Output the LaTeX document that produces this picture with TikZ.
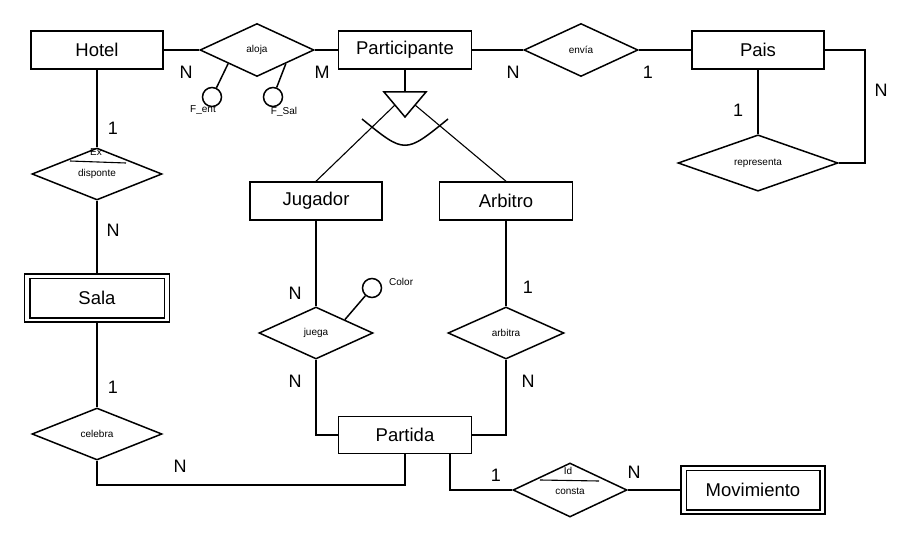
\documentclass[tikz,border=0pt]{standalone}
\usepackage{fontspec}
\setmainfont{Liberation Sans}
\usetikzlibrary{shapes.geometric}
\tikzset{
  lw/.style={line width=1.5pt},
  entity/.style={draw, lw, rectangle, minimum width=132pt, minimum height=38pt, inner sep=0pt, font=\fontsize{18.5}{20}\selectfont},
  weak/.style={draw, lw, rectangle, minimum width=145pt, minimum height=48pt, inner sep=0pt, font=\fontsize{18.5}{20}\selectfont},
  rel/.style={draw, lw, diamond, minimum width=114pt, minimum height=53pt, inner sep=0pt, font=\fontsize{10}{11}\selectfont},
  attr/.style={draw, lw, circle, minimum size=19pt, inner sep=0pt},
  card/.style={font=\fontsize{18}{20}\selectfont, inner sep=0pt},
  small/.style={font=\fontsize{10}{11}\selectfont, inner sep=0pt},
  conn/.style={lw},
  thinconn/.style={line width=1.1pt},
}
\begin{document}
\begin{tikzpicture}[x=1pt,y=-1pt]
\useasboundingbox (0,0) rectangle (906,551);
% entities
\node[entity] (hotel) at (97,50) {Hotel};
\node[entity, minimum width=133pt] (part) at (405,50) {Participante};
\node[entity] (pais) at (758,50) {Pais};
\node[entity] (jug) at (316,201) {Jugador};
\node[entity, minimum width=133pt] (arb) at (506,201) {Arbitro};
\node[weak] (sala) at (97,298) {Sala};
\node[entity, minimum width=133pt, minimum height=37pt] (partida) at (405,435) {Partida};
\node[weak, minimum width=144pt] (mov) at (753,490) {Movimiento};
\draw[lw] ([shift={(6pt,-5pt)}]sala.north west) rectangle ([shift={(-6pt,5pt)}]sala.south east);
\draw[lw] ([shift={(6pt,-5pt)}]mov.north west) rectangle ([shift={(-6pt,5pt)}]mov.south east);
% relationships
\node[rel] (aloja) at (257,50) {aloja};
\node[rel] (envia) at (581,50) {envía};
\node[rel, minimum width=160pt, minimum height=52pt] (repr) at (758,163) {representa};
\node[rel, minimum width=130pt, minimum height=52pt] (ex) at (97,174) {disponte};
\node[rel, minimum width=130pt, minimum height=52pt] (celebra) at (97,434) {celebra};
\node[rel, minimum height=52pt] (juega) at (316,333) {juega};
\node[rel, minimum width=116pt, minimum height=52pt] (arbitra) at (506,333) {arbitra};
\node[rel, minimum height=54pt] (consta) at (570,490) {};
\node[small] (constatxt) at (570,491) {consta};
\node[small] (idtxt) at (568,471) {Id};
\node[small] (extxt) at (96,152) {Ex};
\draw[thinconn] (70,161) -- (126,163);
\draw[thinconn] (540,480) -- (599,481);
% attributes
\node[attr] (fent) at (212,97) {};
\node[attr] (fsal) at (273,97) {};
\node[attr] (color) at (372,288) {};
\node[small] (fenttxt) at (203,110) {F\_ent};
\node[small] (fsaltxt) at (284,112) {F\_Sal};
\node[small, anchor=west] (colortxt) at (389,282) {Color};
\draw[conn] (aloja.south west) -- (fent);
\draw[conn] (aloja.south east) -- (fsal);
\draw[conn] (juega.north east) -- (color);
% ISA
\coordinate (isatop) at (405,92);
\coordinate (isal) at (384,92);
\coordinate (isar) at (426,92);
\coordinate (isaapex) at (405,117);
\coordinate (isals) at (395,105);
\coordinate (isars) at (415,105);
\draw[lw] (isal) -- (isar) -- (isaapex) -- cycle;
\draw[conn] (part.south) -- (isatop);
\draw[lw] (362,119) .. controls (405,154) .. (448,119);
\draw[thinconn] (isals) -- (jug.north);
\draw[thinconn] (isars) -- (arb.north);
% connectors
\coordinate (rcorner) at (865,163);
\coordinate (cbottom) at (405,485);
\draw[conn] (hotel.east) -- (aloja.west);
\draw[conn] (aloja.east) -- (part.west);
\draw[conn] (part.east) -- (envia.west);
\draw[conn] (envia.east) -- (pais.west);
\draw[conn] (pais.south) -- (repr.north);
\draw[conn] (pais.east) -| (rcorner) -- (repr.east);
\draw[conn] (hotel.south) -- (ex.north);
\draw[conn] (ex.south) -- (sala.north);
\draw[conn] (sala.south) -- (celebra.north);
\draw[conn] (celebra.south) |- (cbottom) -- (partida.south);
\draw[conn] (jug.south) -- (juega.north);
\draw[conn] (juega.south) |- (partida.west);
\draw[conn] (arb.south) -- (arbitra.north);
\draw[conn] (arbitra.south) |- (partida.east);
\draw[conn] ([xshift=45pt]partida.south) |- (consta.west);
\draw[conn] (consta.east) -- (mov.west);
% cardinalities
\node[card] (c1) at (186,72) {N};
\node[card] (c2) at (322,72) {M};
\node[card] (c3) at (113,128) {1};
\node[card] (c4) at (113,230) {N};
\node[card] (c5) at (113,387) {1};
\node[card] (c6) at (180,466) {N};
\node[card] (c7) at (513,72) {N};
\node[card] (c8) at (648,72) {1};
\node[card] (c9) at (738,110) {1};
\node[card] (c10) at (881,90) {N};
\node[card] (c11) at (295,293) {N};
\node[card] (c12) at (295,381) {N};
\node[card] (c13) at (528,287) {1};
\node[card] (c14) at (528,381) {N};
\node[card] (c15) at (496,475) {1};
\node[card] (c16) at (634,472) {N};
\end{tikzpicture}
\end{document}
